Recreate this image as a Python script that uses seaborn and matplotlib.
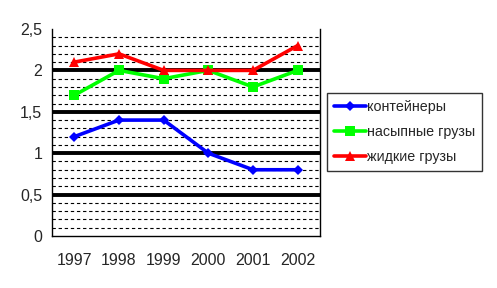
import numpy as np
import pandas as pd
import matplotlib
matplotlib.use("Agg")
import matplotlib.pyplot as plt
import seaborn as sns
from matplotlib.ticker import FixedLocator, MultipleLocator, FuncFormatter

years = ["1997", "1998", "1999", "2000", "2001", "2002"]
containers = [1.2, 1.4, 1.4, 1.0, 0.8, 0.8]
bulk = [1.7, 2.0, 1.9, 2.0, 1.8, 2.0]
liquid = [2.1, 2.2, 2.0, 2.0, 2.0, 2.3]
series_names = ["контейнеры", "насыпные грузы", "жидкие грузы"]

sns.set_style("white")
plt.rcParams['font.family'] = ['Liberation Sans', 'DejaVu Sans']

rows = []
for name, vals in zip(series_names, [containers, bulk, liquid]):
    for i, (y, v) in enumerate(zip(years, vals)):
        rows.append({"x": i, "year": y, "value": v, "series": name})
df = pd.DataFrame(rows)

fig = plt.figure(figsize=(4.97, 2.88), dpi=100)
ax = fig.add_axes([52/497, 1-236/288, (320-52)/497, (236-29)/288])

# gridlines
for v in np.arange(0.1, 2.5, 0.1):
    v = round(v, 1)
    if abs(v * 2 - round(v * 2)) < 1e-6:
        ax.axhline(v, color="black", lw=2.8, zorder=1)
    else:
        ax.axhline(v, color="black", lw=0.8, ls=(0, (3, 2.5)), zorder=1)

palette = {"контейнеры": "#0000ff", "насыпные грузы": "#00ff00", "жидкие грузы": "#ff0000"}
markers = {"контейнеры": "D", "насыпные грузы": "s", "жидкие грузы": "^"}
sizes = {"контейнеры": 5, "насыпные грузы": 6.5, "жидкие грузы": 7.5}
for name in series_names:
    sub = df[df.series == name]
    sns.lineplot(data=sub, x="x", y="value", color=palette[name], lw=2.6,
                 marker=markers[name], markersize=sizes[name], markeredgewidth=0,
                 label=name, ax=ax, zorder=3)

ax.set_xlim(-0.5, 5.5)
ax.set_ylim(0, 2.5)
ax.xaxis.set_major_locator(FixedLocator(range(6)))
ax.set_xticklabels(years)
ax.xaxis.set_minor_locator(FixedLocator(np.arange(-0.5, 6, 1)))
ax.tick_params(axis="x", which="major", length=0, pad=12, labelsize=11.5)
ax.tick_params(axis="x", which="minor", length=5, width=1, color="black", direction="out")
ax.yaxis.set_major_locator(MultipleLocator(0.5))
ax.yaxis.set_major_formatter(FuncFormatter(lambda v, p: ("%g" % v).replace(".", ",")))
ax.tick_params(axis="y", which="major", length=5, width=1, color="black", direction="out", labelsize=11.5, pad=2)
ax.set_xlabel("")
ax.set_ylabel("")
for s in ["left", "bottom", "right"]:
    ax.spines[s].set_visible(True)
    ax.spines[s].set_color("black")
    ax.spines[s].set_linewidth(1)
ax.spines["top"].set_visible(False)

ax.legend_.remove()
h, l = ax.get_legend_handles_labels()
leg = fig.legend(h, l, loc="upper left", bbox_to_anchor=(327/497, 1-93/288),
                 frameon=True, fancybox=False, edgecolor="black", fontsize=10.3,
                 handlelength=2.2, handletextpad=0.1, borderpad=0.5, labelspacing=0.75,
                 borderaxespad=0)
leg.get_frame().set_linewidth(1)

fig.savefig("out.png", dpi=100)
